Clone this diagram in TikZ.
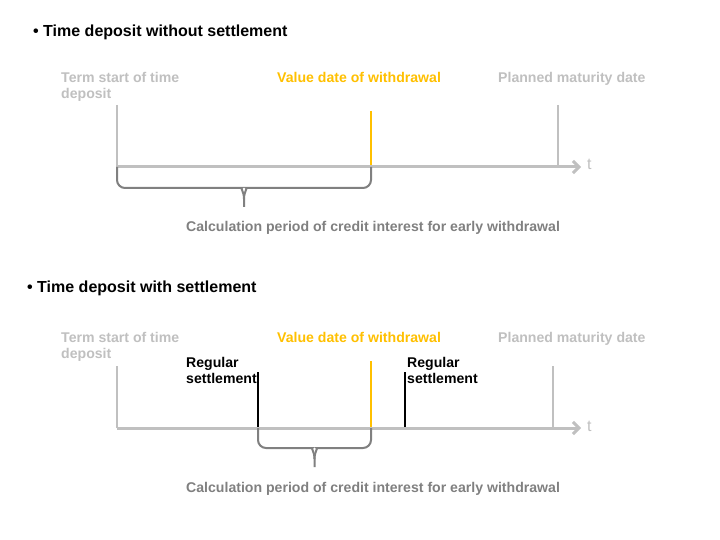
\documentclass[tikz,border=0pt]{standalone}
\usepackage{fontspec}
\setmainfont{Liberation Sans}
\usetikzlibrary{arrows.meta,calc}
\definecolor{axisgray}{HTML}{C0C0C0}
\definecolor{bracegray}{HTML}{808080}
\definecolor{valorange}{HTML}{FFC000}
\tikzset{
  heading/.style={anchor=base west,inner sep=0pt,font=\fontsize{16}{18}\selectfont\bfseries},
  datelbl/.style={anchor=base west,inner sep=0pt,align=left,font=\fontsize{14.1}{16}\selectfont\bfseries},
  tickline/.style={line width=2pt},
  timeaxis/.style={axisgray,line width=3pt,-{Straight Barb[length=6pt,width=12pt]}},
  brace/.style={bracegray,line width=2pt},
}
\begin{document}
\begin{tikzpicture}[x=1pt,y=-1pt]
  \fill[white] (0,0) rectangle (720,540);
  \useasboundingbox (0,0) rectangle (720,540);
  % without settlement
  \node[heading] (head1) at (33,37) {• Time deposit without settlement};
  \node[datelbl,axisgray]  (start1) at (61,99)  {Term start of time\\deposit};
  \node[datelbl,valorange] (value1) at (277,83) {Value date of withdrawal};
  \node[datelbl,axisgray]  (plan1)  at (498,83) {Planned maturity date};
  \coordinate (s1)  at (117,167); \coordinate (s1t) at (117,105);
  \coordinate (w1)  at (371,167); \coordinate (w1t) at (371,111);
  \coordinate (m1)  at (558,167); \coordinate (m1t) at (558,105);
  \coordinate (e1)  at (581,167);
  \coordinate (b1)  at (244,188); \coordinate (b1t) at (244,207);
  \draw[tickline,axisgray]  (s1t) -- (s1);
  \draw[tickline,valorange] (w1t) -- (w1);
  \draw[tickline,axisgray]  (m1t) -- (m1);
  \draw[timeaxis] (s1) -- (e1);
  \node[anchor=base west,inner sep=0pt,axisgray,font=\fontsize{16}{18}\selectfont] (t1) at (587,170) {t};
  \draw[brace,rounded corners=8pt] (s1) |- ($(b1)+(-10,0)$) [sharp corners]
     .. controls ($(b1)+(-4,0)$) and ($(b1)+(0,3)$) .. ($(b1)+(0,11)$) -- (b1t);
  \draw[brace,rounded corners=8pt] (w1) |- ($(b1)+(10,0)$) [sharp corners]
     .. controls ($(b1)+(4,0)$) and ($(b1)+(0,3)$) .. ($(b1)+(0,11)$);
  \node[datelbl,bracegray] (calc1) at (186,231) {Calculation period of credit interest for early withdrawal};
  % with settlement
  \node[heading] (head2) at (27,292) {• Time deposit with settlement};
  \node[datelbl,axisgray]  (start2) at (61,358)  {Term start of time\\deposit};
  \node[datelbl,valorange] (value2) at (277,342) {Value date of withdrawal};
  \node[datelbl,axisgray]  (plan2)  at (498,342) {Planned maturity date};
  \node[datelbl] (reg2a) at (186,383) {Regular\\settlement};
  \node[datelbl] (reg2b) at (407,383) {Regular\\settlement};
  \coordinate (s2)  at (117,428); \coordinate (s2t) at (117,366);
  \coordinate (r2)  at (258,428); \coordinate (r2t) at (258,372);
  \coordinate (w2)  at (371,428); \coordinate (w2t) at (371,361);
  \coordinate (q2)  at (405,428); \coordinate (q2t) at (405,372);
  \coordinate (m2)  at (553,428); \coordinate (m2t) at (553,366);
  \coordinate (e2)  at (581,428);
  \coordinate (b2)  at (314.5,448); \coordinate (b2t) at (314.5,467);
  \draw[tickline,axisgray]  (s2t) -- (s2);
  \draw[tickline,black]     (r2t) -- (r2);
  \draw[tickline,valorange] (w2t) -- (w2);
  \draw[tickline,black]     (q2t) -- (q2);
  \draw[tickline,axisgray]  (m2t) -- (m2);
  \draw[timeaxis] (s2) -- (e2);
  \node[anchor=base west,inner sep=0pt,axisgray,font=\fontsize{16}{18}\selectfont] (t2) at (587,431) {t};
  \draw[brace,rounded corners=8pt] (r2) |- ($(b2)+(-10,0)$) [sharp corners]
     .. controls ($(b2)+(-4,0)$) and ($(b2)+(0,3)$) .. ($(b2)+(0,11)$) -- (b2t);
  \draw[brace,rounded corners=8pt] (w2) |- ($(b2)+(10,0)$) [sharp corners]
     .. controls ($(b2)+(4,0)$) and ($(b2)+(0,3)$) .. ($(b2)+(0,11)$);
  \node[datelbl,bracegray] (calc2) at (186,492) {Calculation period of credit interest for early withdrawal};
\end{tikzpicture}
\end{document}
